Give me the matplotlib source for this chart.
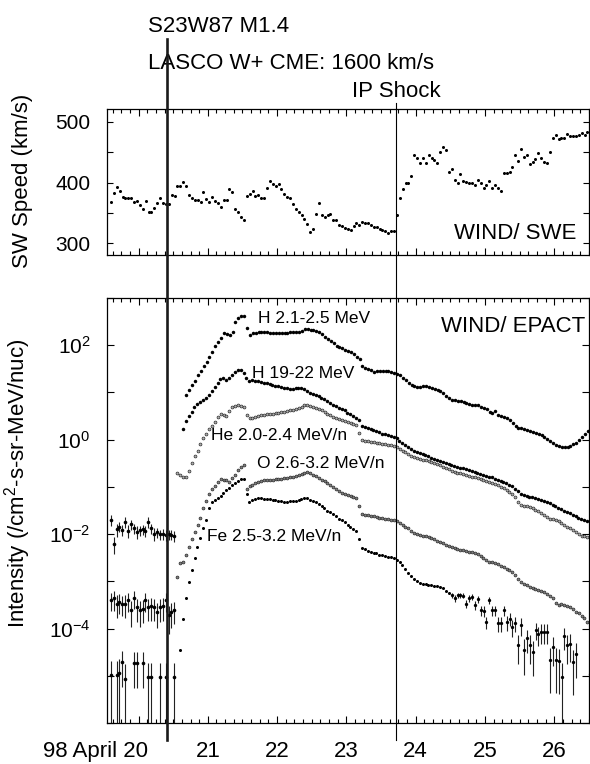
import numpy as np
import matplotlib
matplotlib.use("Agg")
import matplotlib.pyplot as plt
from matplotlib.ticker import FixedLocator, FixedFormatter, MultipleLocator, NullLocator
from matplotlib.transforms import blended_transform_factory, ScaledTranslation
from matplotlib.lines import Line2D

plt.rcParams['font.family'] = ['Liberation Sans', 'DejaVu Sans']
plt.rcParams['mathtext.fontset'] = 'custom'
plt.rcParams['mathtext.rm'] = 'Liberation Sans'
plt.rcParams['mathtext.it'] = 'Liberation Sans:italic'
plt.rcParams['mathtext.bf'] = 'Liberation Sans:bold'

HOUR = 1.0 / 24.0
nan = np.nan

# ---------------- data (day of April 1998) ----------------
flare_day = 20.41
shock_day = 23.72

# WIND/SWE solar wind speed, km/s, hourly
sw_start = 19.603
sw_speed = [
    368, 383, 392, 386, 376, 375, 374, 374, 368, 370, 364, 356, 369, 351, 351, 359,
    367, 374, 367, 365, 365, 379, 378, 394, 394, 401, 394, 380, 375, 372, 371, 368,
    384, 373, 368, 376, 369, 366, 360, 371, 372, 390, 384, 357, 352, 344, 339, 378,
    382, 387, 378, 379, 374, 375, 391, 402, 398, 394, 397, 390, 382, 377, 374, 365,
    357, 351, 347, 341, 332, 319, 323, 349, 367, 346, 344, 346, 349, 339, 338, 330,
    329, 326, 324,
    322, 329, 333, 331, 335, 334, 333, 330, 327, 327, 324, 322, 320, 317, 321, 321,
    347, 375, 390, 399, 400, 411, 446, 441, 433, 440, 433, 445, 441, 437, 433, 451,
    458, 453, 417, 422, 404, 400, 414, 402, 401, 400, 399, 396, 404, 399, 391, 396,
    402, 391, 396, 391, 387, 415, 416, 418, 425, 446, 435, 456, 442, 445, 430, 434,
    438, 449, 441, 434, 433, 451, 473, 479, 472, 474, 473, 480, 477, 476, 476, 478,
    481, 478, 483, 484,
]

# WIND/EPACT intensities, log10(/cm2-s-sr-MeV/nuc), hourly
h_low_start = 20.69          # H 2.1-2.5 MeV
h_low = [
    0.95, 1.06, 1.16, 1.25, 1.36, 1.45, 1.55, 1.64, 1.76, 1.86, 1.98, 2.06, 2.15, 2.26,
    2.24, 2.21, 2.27, 2.50, 2.57, 2.61, 2.62, 2.36, 2.22, 2.25, 2.26, 2.28, 2.28, 2.27,
    2.27, 2.26, 2.26, 2.25, 2.25, 2.25, 2.26, 2.26, 2.27, 2.27, 2.28, 2.29, 2.31, 2.34,
    2.35, 2.33, 2.32, 2.30, 2.27, 2.23, 2.18, 2.13, 2.08, 2.04, 1.99, 1.97, 1.94, 1.90,
    1.88, 1.86, 1.82, 1.76, 1.70, 1.55, 1.52, 1.50, 1.47, 1.44, 1.45, 1.46, 1.46, 1.45,
    1.45, 1.44, 1.42, 1.40, 1.36, 1.31, 1.26, 1.20, 1.16, 1.13, 1.12, 1.12, 1.13, 1.13,
    1.12, 1.10, 1.08, 1.06, 1.03, 0.98, 0.93, 0.88, 0.85, 0.84, 0.82, 0.81, 0.79, 0.77,
    0.75, 0.74, 0.74, 0.73, 0.70, 0.67, 0.64, 0.58, 0.56, 0.60, 0.53, 0.50, 0.47, 0.45,
    0.42, 0.35, 0.28, 0.25, 0.24, 0.22, 0.20, 0.19, 0.17, 0.14, 0.12, 0.09, 0.05, 0.02,
    -0.03, -0.07, -0.11, -0.13, -0.16, -0.15, -0.16, -0.13, -0.10, -0.06, 0.00, 0.06,
    0.13, 0.19,
]

h_high_start = 20.64         # H 19-22 MeV
h_high = [
    0.23, 0.40, 0.50, 0.58, 0.70, 0.75, 0.79, 0.83, 0.88, 0.95, 1.03, 1.12, 1.20, 1.29,
    1.30, 1.27, 1.31, 1.38, 1.44, 1.48, 1.48, 1.42, 1.30, 1.25, 1.26, 1.25, 1.24, 1.22,
    1.21, 1.19, 1.17, 1.16, 1.14, 1.13, 1.11, 1.10, 1.09, 1.08, 1.08, 1.09, 1.10, 1.10,
    1.07, 1.04, 0.99, 0.96, 0.94, 0.92, 0.89, 0.86, 0.82, 0.78, 0.74, 0.71, 0.68, 0.65,
    0.62, 0.57, 0.54, 0.50, 0.46, 0.42, 0.28, 0.26, 0.24, 0.22, 0.20, 0.18, 0.16, 0.13,
    0.11, 0.10, 0.08, 0.06, 0.03, -0.03, -0.07, -0.12, -0.16, -0.20, -0.23, -0.26, -0.28,
    -0.30, -0.32, -0.35, -0.38, -0.40, -0.42, -0.45, -0.47, -0.50, -0.52, -0.54, -0.56,
    -0.58, -0.59, -0.61, -0.62, -0.64, -0.66, -0.68, -0.70, -0.72, -0.74, -0.76, -0.78,
    -0.80, -0.83, -0.85, -0.88, -0.90, -0.92, -0.95, -0.99, -1.04, -1.09, -1.14, -1.17,
    -1.19, -1.21, -1.22, -1.23, -1.25, -1.28, -1.30, -1.33, -1.35, -1.38, -1.41, -1.44,
    -1.47, -1.50, -1.53, -1.56, -1.59, -1.62, -1.65, -1.67, -1.70, -1.72,
]

he_start = 20.56             # He 2.0-2.4 MeV/n
he = [
    -0.71, -0.75, -0.80, -0.78, -0.66, -0.49, -0.35, -0.23, -0.10, 0.03, 0.13, 0.22,
    0.30, 0.38, 0.48, 0.55, 0.53, 0.51, 0.60, 0.69, 0.71, 0.73, 0.72, 0.70, 0.52, 0.46,
    0.45, 0.48, 0.51, 0.53, 0.53, 0.54, 0.55, 0.55, 0.56, 0.57, 0.58, 0.59, 0.60, 0.62,
    0.63, 0.65, 0.67, 0.70, 0.73, 0.74, 0.72, 0.70, 0.68, 0.65, 0.62, 0.59, 0.55, 0.52,
    0.49, 0.46, 0.44, 0.42, 0.40, 0.38, 0.35, 0.33, 0.31, 0.15, -0.01, -0.02, -0.03,
    -0.04, -0.05, -0.06, -0.08, -0.09, -0.10, -0.11, -0.12, -0.14, -0.16, -0.20, -0.24,
    -0.27, -0.31, -0.34, -0.36, -0.38, -0.40, -0.42, -0.44, -0.46, -0.48, -0.50, -0.52,
    -0.54, -0.57, -0.60, -0.63, -0.66, -0.68, -0.70, -0.71, -0.73, -0.75, -0.77, -0.79,
    -0.80, -0.82, -0.84, -0.86, -0.87, -0.89, -0.91, -0.94, -0.97, -1.00, -1.03, -1.07,
    -1.11, -1.16, -1.22, -1.33, -1.39, -1.40, -1.41, -1.42, -1.45, -1.48, -1.52, -1.55,
    -1.59, -1.63, -1.67, -1.69, -1.71, -1.73, -1.76, -1.80, -1.84, -1.88, -1.92, -1.96,
    -2.00, -2.03, -2.05, -2.06,
]

o_start = 20.56              # O 2.6-3.2 MeV/n
o = [
    -2.90, -2.62, -2.58, -2.45, -2.28, -2.11, -1.95, -1.80, -1.65, -1.45, -1.30, -1.14,
    -1.04, -0.98, -0.90, -0.84, -0.85, -0.86, -0.89, -0.82, -0.74, -0.64, -0.57, -0.54,
    -1.05, -0.99, -0.95, -0.92, -0.89, -0.87, -0.86, -0.86, -0.85, -0.85, -0.84, -0.84,
    -0.83, -0.82, -0.81, -0.79, -0.78, -0.76, -0.75, -0.73, -0.70, -0.69, -0.71, -0.74,
    -0.77, -0.81, -0.85, -0.88, -0.91, -0.96, -1.00, -1.04, -1.08, -1.12, -1.15, -1.18,
    -1.20, -1.22, -1.24, -1.40, -1.58, -1.59, -1.60, -1.61, -1.62, -1.64, -1.65, -1.66,
    -1.68, -1.69, -1.70, -1.71, -1.73, -1.77, -1.81, -1.84, -1.88, -1.94, -1.98, -2.00,
    -2.01, -2.03, -2.05, -2.07, -2.09, -2.11, -2.14, -2.16, -2.19, -2.22, -2.26, -2.28,
    -2.29, -2.31, -2.33, -2.34, -2.36, -2.37, -2.38, -2.40, -2.42, -2.46, -2.50, -2.55,
    -2.58, -2.60, -2.62, -2.64, -2.67, -2.70, -2.73, -2.76, -2.80, -2.87, -2.96, -3.02,
    -3.05, -3.08, -3.12, -3.14, -3.16, -3.18, -3.20, -3.23, -3.27, -3.31, -3.35, -3.45,
    -3.50, -3.49, -3.51, -3.53, -3.54, -3.59, -3.64, -3.68, -3.73, -3.78, -3.86,
]

fe_start = 20.60             # Fe 2.5-3.2 MeV/n
fe = [
    -4.45, -3.80, -3.36, -3.02, -2.75, -2.50, -2.28, -2.08, -1.88, -1.70, -1.45, -1.33,
    -1.28, -1.24, -1.20, -1.13, -1.07, -1.02, -0.97, -0.92, -0.88, -0.84, -0.84, -1.14,
    -1.31, -1.28, -1.26, -1.24, -1.24, -1.25, -1.26, -1.26, -1.27, -1.28, -1.29, -1.30,
    -1.31, -1.31, -1.30, -1.30, -1.29, -1.28, -1.26, -1.24, -1.24, -1.27, -1.30, -1.33,
    -1.36, -1.40, -1.45, -1.50, -1.54, -1.58, -1.62, -1.67, -1.71, -1.75, -1.80, -1.85,
    -1.89, -1.93, -2.10, -2.30, -2.32, -2.35, -2.37, -2.39, -2.41, -2.44, -2.45, -2.47,
    -2.48, -2.49, -2.51, -2.54, -2.60, -2.66, -2.74, -2.82, -2.88, -2.95, -3.00, -3.04,
    -3.05, -3.06, -3.07, -3.08, -3.09, -3.10, -3.11, -3.15, -3.20, -3.24,
]

# Fe decay tail with counting uncertainties (relative, linear)
fe_tail_start = 24.52
fe_tail = [
    -3.29, -3.36, -3.29, -3.29, -3.30, -3.47, -3.36, -3.33, -3.50, -3.38, -3.61, -3.62,
    -3.86, -3.40, -3.61, -3.61, -3.88, -3.89, -3.61, -3.86, -3.79, -3.96, -3.89, -4.35,
    -3.93, -4.46, -4.21, -4.35, -4.49, -4.03, -4.12, -4.07, -4.07, -4.07, -4.67, -4.39,
    -4.67, -4.68, -5.02, -4.16, -4.35, -4.32, -4.70, -4.53, nan, nan, nan, nan, -4.97,
]
fe_tail_err = [
    0.12, 0.15, 0.12, 0.12, 0.13, 0.20, 0.15, 0.15, 0.20, 0.15, 0.25, 0.25,
    0.30, 0.17, 0.25, 0.25, 0.35, 0.35, 0.25, 0.35, 0.30, 0.40, 0.35, 0.60,
    0.40, 0.70, 0.50, 0.60, 0.70, 0.40, 0.45, 0.45, 0.45, 0.45, 0.80, 0.60,
    0.80, 0.80, 1.00, 0.50, 0.60, 0.60, 0.80, 0.70, nan, nan, nan, nan, 1.00,
]

# Pre-event background (log10 intensity, relative errors)
bg_start = 19.60
bg_he = [-1.70, -2.20, -1.90, -1.84, -1.91, -1.74, -1.93, -1.79, -1.88, -1.95, -1.92,
         -1.90, -1.93, -1.74, -1.88, -1.99, -1.96, -2.00, -1.99, -2.02, -2.00, -2.01, -2.04]
bg_he_err = [0.25, 0.40, 0.30, 0.25, 0.25, 0.25, 0.30, 0.25, 0.25, 0.30, 0.25, 0.25,
             0.25, 0.25, 0.25, 0.30, 0.25, 0.25, 0.25, 0.25, 0.25, 0.25, 0.25]
bg_o = [-3.40, -3.36, -3.47, -3.43, -3.47, -3.47, -3.40, -3.61, -3.36, -3.55, -3.61,
        -3.58, -3.40, -3.54, -3.53, -3.54, -3.65, -3.55, -3.53, -3.40, -3.72, -3.65, -3.61]
bg_o_err = [0.40, 0.45, 0.50, 0.45, 0.45, 0.50, 0.45, 0.55, 0.40, 0.50, 0.55, 0.50,
            0.45, 0.50, 0.50, 0.50, 0.55, 0.50, 0.50, 0.45, 0.60, 0.55, 0.50]
bg_fe = [-4.99, nan, -4.99, -4.95, -4.70, -5.06, nan, nan, -4.73, -4.73, nan, -4.73,
         nan, -5.02, -5.02, nan, nan, -5.02, nan, -5.02, nan, nan, -5.02]
bg_fe_err = [1.0, nan, 1.0, 1.0, 0.71, 1.0, nan, nan, 0.71, 0.71, nan, 0.71,
             nan, 1.0, 1.0, nan, nan, 1.0, nan, 1.0, nan, nan, 1.0]

day_ticks = [20, 21, 22, 23, 24, 25, 26]
day_labels = ['98 April 20', '21', '22', '23', '24', '25', '26']


def hourly(start, values):
    return start + HOUR * np.arange(len(values))


def to_lin(logs):
    return 10.0 ** np.asarray(logs, dtype=float)


# ---------------- figure ----------------
W, H = 590, 764
fig = plt.figure(figsize=(W / 100, H / 100), dpi=100)


def fx(px):
    return px / W


def fy(py):
    return 1 - py / H


ax1 = fig.add_axes([fx(107), fy(255), (589 - 107) / W, (255 - 109) / H])
ax2 = fig.add_axes([fx(107), fy(723), (589 - 107) / W, (723 - 298) / H])

xlim = (19.545, 26.50)
for ax in (ax1, ax2):
    ax.set_xlim(*xlim)
    ax.xaxis.set_major_locator(FixedLocator(day_ticks))
    ax.xaxis.set_minor_locator(MultipleLocator(0.125))
    ax.tick_params(which='both', direction='in', top=True, right=True, width=0.8, color='black')
    ax.tick_params(which='major', length=5)
    ax.tick_params(which='minor', length=2.6)
    for s in ax.spines.values():
        s.set_linewidth(0.9)

# --- solar wind panel
ax1.plot(hourly(sw_start, sw_speed), sw_speed, 'o', ms=2.2, color='black', mew=0)
ax1.set_ylim(281, 521)
ax1.yaxis.set_major_locator(FixedLocator([300, 350, 400, 450, 500]))
ax1.yaxis.set_major_formatter(FixedFormatter(['300', '', '400', '', '500']))
ax1.tick_params(axis='y', which='major', length=4.5, labelsize=15, pad=12)
ax1.tick_params(axis='x', labelbottom=False)
ax1.set_ylabel('SW Speed (km/s)', fontsize=16)
ax1.yaxis.set_label_coords(-0.1535, 0.507)
ax1.text(0.973, 0.1075, 'WIND/ SWE', transform=ax1.transAxes, ha='right', va='baseline',
         fontsize=16)

# --- particle panel
ax2.set_yscale('log')
ax2.set_ylim(1e-6, 1e3)
dec = [10.0 ** k for k in range(-6, 4)]
dec_lab = {2: '2', 0: '0', -2: '-2', -4: '-4'}
ax2.yaxis.set_major_locator(FixedLocator(dec))
ax2.yaxis.set_major_formatter(FixedFormatter(
    [r'$\mathregular{10^{%s}}$' % dec_lab[k] if k in dec_lab else '' for k in range(-6, 4)]))
ax2.yaxis.set_minor_locator(NullLocator())
ax2.tick_params(axis='y', which='major', length=5, labelsize=15, pad=12)
ax2.set_xticks(day_ticks)
ax2.set_xticklabels(day_labels)
ax2.tick_params(axis='x', which='major', labelsize=16, pad=13)
for lab in ax2.get_xticklabels():
    if lab.get_text().startswith('98'):
        lab.set_ha('right')
        lab.set_transform(lab.get_transform() + ScaledTranslation(9.5 / 100, 0, fig.dpi_scale_trans))

ax2.set_ylabel(r'Intensity (/cm$^\mathregular{2}$-s-sr-MeV/nuc)', fontsize=16)
ax2.yaxis.set_label_coords(-0.1535, 0.565)


def err_bars(ax, t, logs, rel, ms=2.4, marker='o'):
    v = to_lin(logs)
    r = np.asarray(rel, dtype=float)
    lo = np.maximum(v * (1 - r), 1e-9)
    hi = v * (1 + r)
    ax.errorbar(t, v, yerr=[v - lo, hi - v], fmt=marker, ms=ms, color='black',
                mew=0, elinewidth=0.8, capsize=0, ecolor='#222222')


solid = dict(ls='none', marker='o', color='black', mew=0)
ax2.plot(hourly(h_low_start, h_low), to_lin(h_low), ms=2.5, **solid)
ax2.plot(hourly(h_high_start, h_high), to_lin(h_high), ms=2.5, **solid)
ax2.plot(hourly(he_start, he), to_lin(he), ls='none', marker='o', ms=2.1,
         mfc='#b0b0b0', mec='#202020', mew=0.45)
ax2.plot(hourly(o_start, o), to_lin(o), ls='none', marker='o', ms=2.1,
         mfc='#808080', mec='#202020', mew=0.45)
ax2.plot(hourly(fe_start, fe), to_lin(fe), ms=2.2, **solid)
err_bars(ax2, hourly(fe_tail_start, fe_tail), fe_tail, fe_tail_err, ms=2.4)

t_bg = hourly(bg_start, bg_he)
err_bars(ax2, t_bg, bg_he, bg_he_err, ms=2.6)
err_bars(ax2, t_bg, bg_o, bg_o_err, ms=2.6)
err_bars(ax2, t_bg, bg_fe, bg_fe_err, ms=2.6)

ax2.text(0.9917, 0.9207, 'WIND/ EPACT', transform=ax2.transAxes, ha='right', va='baseline',
         fontsize=16)

curve_labels = [
    ('H 2.1-2.5 MeV', 21.72, 2.47),
    ('H 19-22 MeV', 21.633, 1.30),
    ('He 2.0-2.4 MeV/n', 21.042, -0.008),
    ('O 2.6-3.2 MeV/n', 21.706, -0.608),
    ('Fe 2.5-3.2 MeV/n', 20.993, -2.142),
]
for txt, x, ly in curve_labels:
    ax2.text(x, 10 ** ly, txt, fontsize=12.5, ha='left', va='baseline')

# --- event markers spanning both panels
tr = blended_transform_factory(ax2.transData, fig.transFigure)
fig.add_artist(Line2D([flare_day, flare_day], [fy(39), fy(740)], transform=tr,
                      color='#1a1a1a', lw=1.9, zorder=5))
fig.add_artist(Line2D([shock_day, shock_day], [fy(103), fy(740)], transform=tr,
                      color='black', lw=0.8, zorder=5))

fig.text(fx(148), fy(32.3), 'S23W87 M1.4', fontsize=16, va='baseline', ha='left')
fig.text(fx(148), fy(69), 'LASCO W+ CME: 1600 km/s', fontsize=16, va='baseline', ha='left')
fig.text(fx(351.7), fy(97.3), 'IP Shock', fontsize=16, va='baseline', ha='left')

fig.savefig('out.png', dpi=100, facecolor='white')
